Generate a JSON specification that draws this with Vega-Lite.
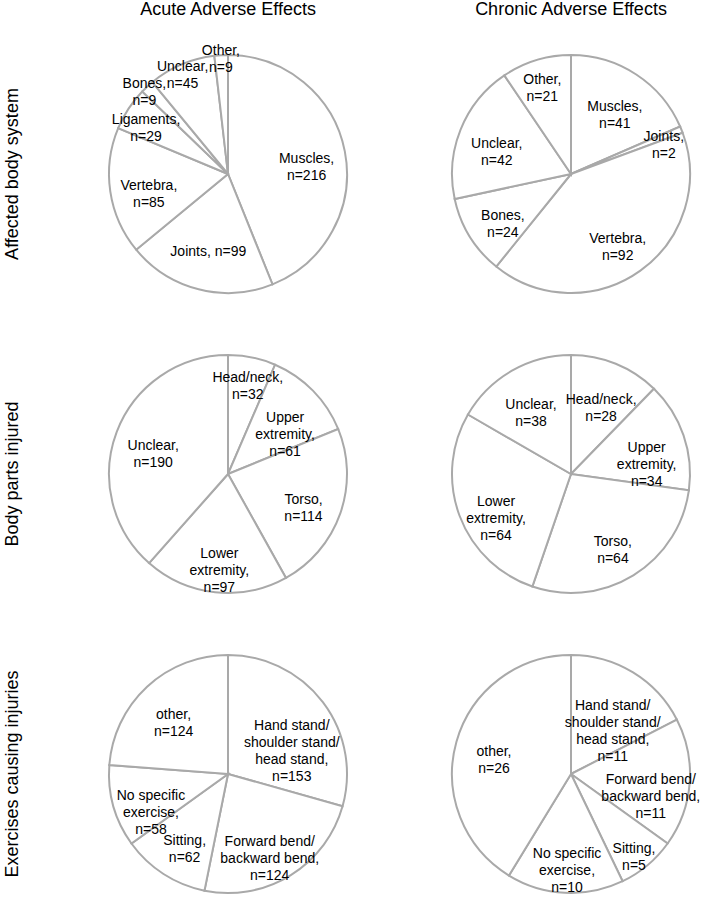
{
  "$schema": "https://vega.github.io/schema/vega-lite/v6.json",
  "background": "white",
  "bounds": "flush",
  "padding": {"left": 3, "top": 1, "right": 3, "bottom": 3},
  "data": {"values": [
    {"row": "Affected body system", "col": "Acute Adverse Effects", "idx": 1, "category": "Muscles", "n": 216, "label": "Muscles,\nn=216"},
    {"row": "Affected body system", "col": "Acute Adverse Effects", "idx": 2, "category": "Joints", "n": 99, "label": "Joints, n=99"},
    {"row": "Affected body system", "col": "Acute Adverse Effects", "idx": 3, "category": "Vertebra", "n": 85, "label": "Vertebra,\nn=85"},
    {"row": "Affected body system", "col": "Acute Adverse Effects", "idx": 4, "category": "Ligaments", "n": 29, "label": "Ligaments,\nn=29"},
    {"row": "Affected body system", "col": "Acute Adverse Effects", "idx": 5, "category": "Bones", "n": 9, "label": "Bones,\nn=9"},
    {"row": "Affected body system", "col": "Acute Adverse Effects", "idx": 6, "category": "Unclear", "n": 45, "label": "Unclear,\nn=45"},
    {"row": "Affected body system", "col": "Acute Adverse Effects", "idx": 7, "category": "Other", "n": 9, "label": "Other,\nn=9"},
    {"row": "Affected body system", "col": "Chronic Adverse Effects", "idx": 1, "category": "Muscles", "n": 41, "label": "Muscles,\nn=41"},
    {"row": "Affected body system", "col": "Chronic Adverse Effects", "idx": 2, "category": "Joints", "n": 2, "label": "Joints,\nn=2"},
    {"row": "Affected body system", "col": "Chronic Adverse Effects", "idx": 3, "category": "Vertebra", "n": 92, "label": "Vertebra,\nn=92"},
    {"row": "Affected body system", "col": "Chronic Adverse Effects", "idx": 4, "category": "Bones", "n": 24, "label": "Bones,\nn=24"},
    {"row": "Affected body system", "col": "Chronic Adverse Effects", "idx": 5, "category": "Unclear", "n": 42, "label": "Unclear,\nn=42"},
    {"row": "Affected body system", "col": "Chronic Adverse Effects", "idx": 6, "category": "Other", "n": 21, "label": "Other,\nn=21"},
    {"row": "Body parts injured", "col": "Acute Adverse Effects", "idx": 1, "category": "Head/neck", "n": 32, "label": "Head/neck,\nn=32"},
    {"row": "Body parts injured", "col": "Acute Adverse Effects", "idx": 2, "category": "Upper extremity", "n": 61, "label": "Upper\nextremity,\nn=61"},
    {"row": "Body parts injured", "col": "Acute Adverse Effects", "idx": 3, "category": "Torso", "n": 114, "label": "Torso,\nn=114"},
    {"row": "Body parts injured", "col": "Acute Adverse Effects", "idx": 4, "category": "Lower extremity", "n": 97, "label": "Lower\nextremity,\nn=97"},
    {"row": "Body parts injured", "col": "Acute Adverse Effects", "idx": 5, "category": "Unclear", "n": 190, "label": "Unclear,\nn=190"},
    {"row": "Body parts injured", "col": "Chronic Adverse Effects", "idx": 1, "category": "Head/neck", "n": 28, "label": "Head/neck,\nn=28"},
    {"row": "Body parts injured", "col": "Chronic Adverse Effects", "idx": 2, "category": "Upper extremity", "n": 34, "label": "Upper\nextremity,\nn=34"},
    {"row": "Body parts injured", "col": "Chronic Adverse Effects", "idx": 3, "category": "Torso", "n": 64, "label": "Torso,\nn=64"},
    {"row": "Body parts injured", "col": "Chronic Adverse Effects", "idx": 4, "category": "Lower extremity", "n": 64, "label": "Lower\nextremity,\nn=64"},
    {"row": "Body parts injured", "col": "Chronic Adverse Effects", "idx": 5, "category": "Unclear", "n": 38, "label": "Unclear,\nn=38"},
    {"row": "Exercises causing injuries", "col": "Acute Adverse Effects", "idx": 1, "category": "Hand stand/shoulder stand/head stand", "n": 153, "label": "Hand stand/\nshoulder stand/\nhead stand,\nn=153"},
    {"row": "Exercises causing injuries", "col": "Acute Adverse Effects", "idx": 2, "category": "Forward bend/backward bend", "n": 124, "label": "Forward bend/\nbackward bend,\nn=124"},
    {"row": "Exercises causing injuries", "col": "Acute Adverse Effects", "idx": 3, "category": "Sitting", "n": 62, "label": "Sitting,\nn=62"},
    {"row": "Exercises causing injuries", "col": "Acute Adverse Effects", "idx": 4, "category": "No specific exercise", "n": 58, "label": "No specific\nexercise,\nn=58"},
    {"row": "Exercises causing injuries", "col": "Acute Adverse Effects", "idx": 5, "category": "other", "n": 124, "label": "other,\nn=124"},
    {"row": "Exercises causing injuries", "col": "Chronic Adverse Effects", "idx": 1, "category": "Hand stand/shoulder stand/head stand", "n": 11, "label": "Hand stand/\nshoulder stand/\nhead stand,\nn=11"},
    {"row": "Exercises causing injuries", "col": "Chronic Adverse Effects", "idx": 2, "category": "Forward bend/backward bend", "n": 11, "label": "Forward bend/\nbackward bend,\nn=11"},
    {"row": "Exercises causing injuries", "col": "Chronic Adverse Effects", "idx": 3, "category": "Sitting", "n": 5, "label": "Sitting,\nn=5"},
    {"row": "Exercises causing injuries", "col": "Chronic Adverse Effects", "idx": 4, "category": "No specific exercise", "n": 10, "label": "No specific\nexercise,\nn=10"},
    {"row": "Exercises causing injuries", "col": "Chronic Adverse Effects", "idx": 5, "category": "other", "n": 26, "label": "other,\nn=26"}
  ]},
  "facet": {
    "row": {"field": "row", "type": "nominal", "sort": ["Affected body system", "Body parts injured", "Exercises causing injuries"],
      "header": {"title": null, "labelFontSize": 18, "labelFont": "Liberation Sans", "labelColor": "black", "labelPadding": 67, "labelAngle": -90, "labelOrient": "left"}},
    "column": {"field": "col", "type": "nominal", "sort": ["Acute Adverse Effects", "Chronic Adverse Effects"],
      "header": {"title": null, "labelFontSize": 18, "labelFont": "Liberation Sans", "labelColor": "black", "labelPadding": 35, "labelOrient": "top"}}
  },
  "spacing": {"row": 60, "column": 83},
  "resolve": {"scale": {"theta": "independent"}},
  "spec": {
    "width": 260,
    "height": 240,
    "transform": [
      {"joinaggregate": [{"op": "sum", "field": "n", "as": "total"}], "groupby": ["row", "col"]},
      {"calculate": "datum.n / datum.total", "as": "share"}
    ],
    "layer": [
      {
        "mark": {"type": "arc", "outerRadius": 119, "fill": "white", "stroke": "#a9a9a9", "strokeWidth": 2},
        "encoding": {
          "theta": {"field": "n", "type": "quantitative", "stack": true},
          "order": {"field": "idx", "type": "quantitative"}
        }
      },
      {
        "mark": {"type": "text", "font": "Liberation Sans", "fontSize": 14, "color": "black", "lineBreak": "\n", "lineHeight": 17, "align": "center", "baseline": "middle",
          "radius": {"expr": "datum.share < 0.01 ? 100 : datum.share < 0.03 ? 123 : (datum.category == 'Unclear' && datum.share < 0.1) ? 116 : datum.share < 0.1 ? 98 : 80"}},
        "encoding": {
          "theta": {"field": "n", "type": "quantitative", "stack": true},
          "order": {"field": "idx", "type": "quantitative"},
          "text": {"field": "label", "type": "nominal"}
        }
      }
    ]
  },
  "config": {"view": {"stroke": null}}
}
